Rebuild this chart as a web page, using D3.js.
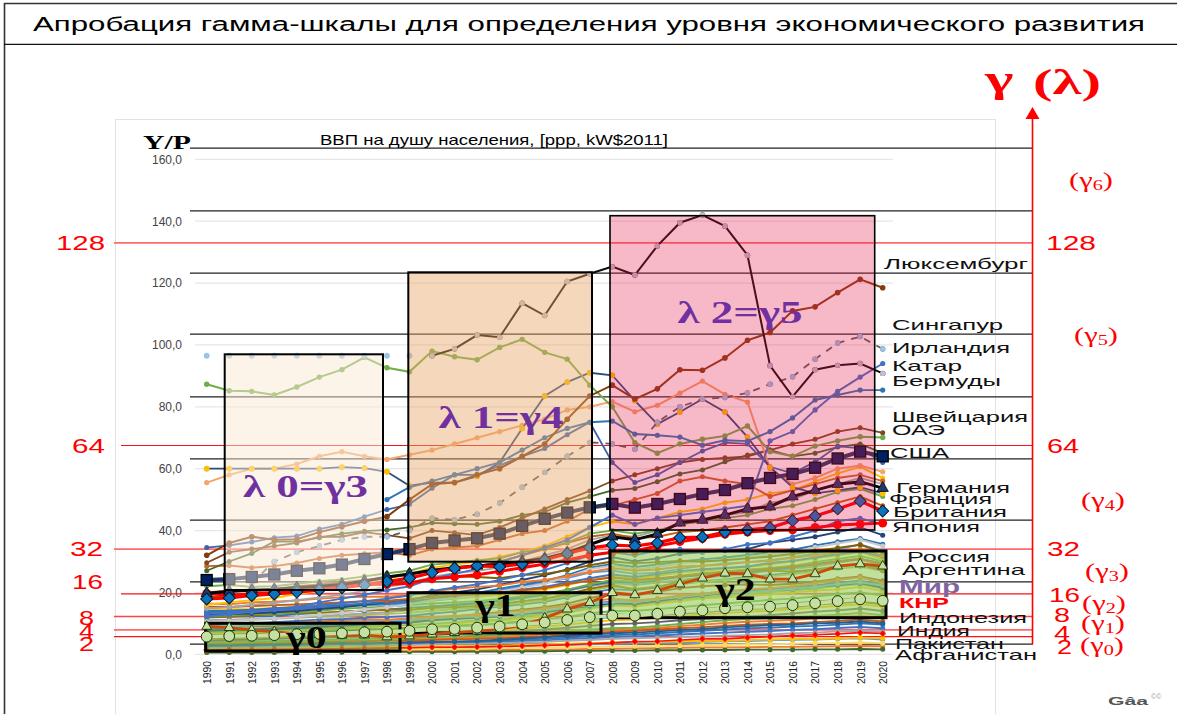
<!DOCTYPE html>
<html><head><meta charset="utf-8">
<script src="https://cdn.jsdelivr.net/npm/d3@7"></script>
<style>html,body{margin:0;padding:0;background:#fff}svg{display:block}</style>
</head><body><svg id="c" width="1177" height="714"></svg>
<script>
const years = d3.range(1990, 2021);
const yTicks = [0,20,40,60,80,100,120,140,160];
const gammaGrid = [163.6,143.3,123.2,103.5,83.2,63.2,43.4,23.4,3.3];
const redLevels = [
 {label:"128",axis:133,c:"#FF6B6B",w:1.6},{label:"64",axis:67.5,c:"#F51515",w:1.1},{label:"32",axis:34,c:"#FF6B6B",w:1.7},{label:"16",axis:19.5,c:"#F51515",w:1.2},
 {label:"8",axis:12.2,c:"#FF4444",w:1.4},{label:"4",axis:7.9,c:"#FF6B6B",w:1.7},{label:"2",axis:5.7,c:"#F51515",w:1.2}];

// Highlighted countries
const luxembourg=[null,null,null,null,null,null,null,null,null,null,96.5,98.7,103.2,102.5,113.5,109.5,120.5,123,125.3,122.6,132,139.5,142,138.4,129,93.3,83.3,92,93.4,94,90.8];
const singapore=[32,36,38,37,37.2,39.5,41.2,43,44.5,50,55,55.5,58,60,64,68,76,83.5,87,82.5,85.8,92,91.8,95.8,101.5,104,111,112.3,116.9,121.2,118.5];
const ireland=[null,null,23,30,33,35,37,38,38,40,44,43.5,45.3,48.9,54,58.8,64,68.5,68,66.3,75,80,82.5,83,84.5,87.3,89.7,95.4,100.6,102.7,98.7];
const brunei=[96.5,96.5,96.5,96.5,96.5,96.5,96.5,96.5,96.5,96.5,96.5];
const qatar=[12.4,12.9,13.7,14.6,15.3,16.8,18,19.2,20.7,22,24.5,26,27.6,29.8,32,34.5,37,41,45,42,44,45,46,47,48,69,72,79,85,89.6,94];
const bermuda=[null,null,null,null,null,null,null,null,50,54,56,58,60,62,66,70,73,75,75.4,71.2,70.8,70.2,67.6,69.2,68.9,72,76.4,82.2,83.8,85.4,85.4];
const kuwait=[60,60,60,60,60,60,60.5,60.2,59,54.5,55.5,55.5,57.5,62,73,83.5,88,91,90.2,82,74.4,78.3,82.5,78.3,70.2,60.5,54,52,53,54,52];
const paleOrange=[55.5,58,60,60,61.5,64,65.5,64,63,64.5,66,68,70,72,74,76,79,80,81.7,78.4,80.5,84.4,88.3,84,81.5,60,55,57,60,61,59];
const paleGreen=[87.3,85.2,85,83.8,86.4,89.6,92,96,92.6,91.3,98,96.2,95.2,99.2,101.8,97.6,95.4,87,80,68.4,65,68,69.5,70.6,73.8,65.5,64,67.3,69,70.3,70.1];
const switzerland=[29.6,33,34,35,36,38,38,39.5,38.5,37.5,40,39.3,38.5,41,44,47,50,52.8,56,58,60,62,63,63.5,64,66,68,69.5,72,73.2,71.6];
const norway=[34.5,35.2,36.3,37.7,38.2,40.5,42,44.5,46.8,48.5,53.7,58,58,61,64,66.5,71,75,62,55.5,58,62,65.7,68.4,68,60.6,58.5,62.2,67.3,66.6,62];
const uae=[27,30,32.6,36.5,36.4,37.7,39,39.8,40.2,41,42.5,42.2,42,43,45,46,49,51,53,53.6,55.8,58.3,59.6,62.2,64.4,66,64,65,67,68,65];
const usa=[24,24.3,25,25.8,27,27.8,29,30.8,32.4,34,36,36.8,37.5,39,41.5,43.8,45.8,47.5,48.6,47.4,48.6,50.2,51.8,53.1,55.3,57,58.3,60.3,63.3,65.5,64];
const germany=[19.7,20.3,20.8,21,21.6,22,22.6,23.6,25,26,27.2,28,28.6,29,30,31,32.8,35.5,38,37,38.9,42.5,43.4,45,47,47.7,51,53,55,55.8,53.7];
const britain=[17.9,18.2,19,19.5,20.1,20.8,21.5,22.4,23.5,24.6,26.4,27.8,28.6,28.3,29.2,30.5,32.6,34.4,35.3,35,36,37.7,37.9,39.5,40.2,40.9,43.2,44.7,47,49.5,46.3];
const japan=[19.7,19,19.6,20,20.8,21.4,22,22.7,22.6,23,24.4,25,25.7,26.8,28,29.2,30.5,32,33,33.4,35,36.4,37.5,38.8,39.5,40,40.2,41,41.8,42.1,42.4];
const russia=[9,8.6,7.8,7.3,6.5,6.3,6.1,6.2,5.6,5.9,6.5,7,7.5,8.2,9.3,11.7,14.6,16.7,19.9,19.2,20.6,22.7,24.6,26.2,26,24.3,24.3,26,28.5,29.2,28.5];
const china=[5.7,5.9,6,6.2,6.5,6.6,6.8,7.1,7.3,7.6,8.1,8.2,8.6,9,9.7,10.3,11.1,12,12.5,12.5,13.1,13.8,14.2,14.9,15.2,15.4,15.9,16.5,17.2,17.8,17.3];
const india=[1.4,1.5,1.5,1.6,1.7,1.7,1.8,1.9,2,2.1,2.3,2.3,2.4,2.5,2.7,2.9,3.1,3.4,3.7,4.1,4.2,4.6,5,5,5.4,5.7,6.1,6.3,6.6,7,6.7];

// Crowd of other countries
const c01=[28.5,28.7,28,28.5,29.5,31,32,32.5,33,32,34,34.5,35,37,39,40,43,47,48,50,52,56,57.4,56,55,51,53,55,57,58,56];
const c02=[16,16.8,17.5,18.2,19.5,20.5,21.5,23,24.5,26,28,29,30,31.5,33,35,38,41,43,42,44,46,47,49,50,52,53,55.8,58.5,60.6,57];
const c03=[14.8,15.2,16,16.6,17.5,18.4,19.2,20.5,21.8,23,25,26.2,27,28,30,32,34,37,38.5,38,40,42,43,45,46,49,50,53,55,57,55];
const c04=[20,20.6,20.5,21,22,22.6,23.2,24,24.8,25.6,27,27.8,28.4,30,32,34,36,38,39,37.5,38,39.5,40,41,42,43,45,47,49,51,48];
const c05=[22,22.4,21.8,22,22.8,23.6,24.2,25.2,26.2,27,29,29.6,30.4,31,33,34,36.2,39,40,39,40,42,43,44,45,47,48,50,52.5,53.5,51];
const c06=[13.2,13.5,14,14.4,15,15.8,16.5,17.2,18,19,20.5,21.6,22.6,24,25.6,27.2,29.5,32,33,32,33.5,34,33,34,35.5,36,38,40,43,44,42];
const c07=[12.8,13,13.2,13.6,14,14.6,15.2,16,16.8,17.6,19,20,21,22.4,24,25.6,27.4,30,31.4,30,31,32.5,33,33.5,34,36,37,38,39.5,41,38.5];
const c08=[10.5,10.8,11.2,11.6,12,12.8,13.4,14.4,15.2,16.2,17.5,18.2,19,20.2,21.6,22.8,25,27.5,28.6,27.4,28.2,29.4,30,30.6,31.2,32.4,33,34.6,35.8,37,35];
const c09=[18.6,18.8,19.2,19.8,20.4,21,21.6,22.4,22.8,23.2,24.6,25.2,25,24.6,25.6,26,27.2,28.8,30,29.4,29.8,30.2,30,30.4,31,31.6,32.4,33.4,34.4,35.4,33];
const c10=[14.2,14.6,14.6,15,15.4,15.6,16,16.2,16.6,17,17.6,18,18.6,19.2,20,21,22.4,24,25,24.4,25.4,26.4,27,27.6,28.2,29,30,31,32,33,30.8];
const c11=[13,13.4,13.6,14,14.4,14.8,15.4,15.8,16,16.4,17.4,18,19.4,20.6,22,23,24.6,26.4,27,26,26.4,27.6,28.6,29.4,29.8,30.4,31.4,32.6,34,35.5,33.4];
const c12=[16.4,16.2,16.8,17,17.4,18,18.4,18.6,18.6,19.2,20.4,21.2,21.8,22.2,23.4,24,25.2,26.6,27.8,27,27.4,28.4,28.6,29,29.8,30.2,31.2,32,33,34,32];
const c13=[11,11.2,11.4,11.6,12,12.4,12.8,13.2,13.6,14.2,15,15.6,16.4,17,18,19,20.4,22,23,22.4,23.2,24,24.8,25.4,26,27,27.6,28.4,29.6,30.6,28.6];
const c14=[9.5,9.8,10,10.4,10.8,11.2,11.4,11.8,12,12.4,13.2,13.8,14.6,15.4,16.2,17,18.4,20,21,20.8,21.6,22.6,23.6,24.2,25,25.6,26.4,27.2,28.4,29.2,27.8];
const c15=[12.2,12.2,12.6,13,13.4,13.4,13.8,14.2,14.4,14.4,15,15.2,15.6,16.2,17.2,18,19.4,21.2,22.4,21,21.8,23.4,25,26.4,27.2,27,26.8,27.4,28.4,29,27];
const c16=[10,10.2,9.8,10.2,10.4,10.6,11,11.2,11.2,11.6,12,12.4,12.8,13.4,14,14.8,15.6,17,18,17.4,18,19,19.6,20.4,21,21.4,22,23,24,24.8,23];
const c17=[8.6,8.8,9,9.2,9.6,10,10.4,10.6,10.8,11.2,11.8,12.2,13,13.6,14.4,15.2,16.4,18.2,19.4,19,20.2,21.4,22,22.4,22.6,22.4,22.8,23.4,24.4,25.2,23.8];
const c18=[7.6,7.8,8,8.2,8.4,8.8,9.2,9.6,10,10.2,11,11.4,11.8,12.2,13,13.6,14.6,15.6,16.6,16.2,17.2,18.2,19,19.8,20.4,20.8,21,21.8,22.4,23,21.6];
const c19=[6.8,7,7.2,7.4,7.8,8.2,8.6,8.8,9,9.4,9.8,10,10.4,10.8,11.6,12.4,13.4,14.8,15.8,15.4,16.4,17.2,18,18.4,18.8,19.4,20,20.6,21,21.8,20.4];
const c20=[6,6.2,6.4,6.4,6.8,7,7.4,7.6,7.6,7.8,8.2,8.6,9,9.4,10,10.6,11.2,12.4,13,12.6,13.2,14,14.6,15.2,15.6,16,16.4,17,17.6,18.2,17];
const c21=[5.2,5.4,5.6,5.8,6,6.2,6.4,6.8,7,7.2,7.4,7.8,8.2,8.6,9.2,9.8,10.6,11.6,12.2,12,12.6,13.2,13.6,14.2,14.6,15,15.2,16,16.6,17,16.2];
const c22=[4.4,4.6,4.8,5,5.2,5.4,5.6,5.8,5.8,6,6.2,6.6,6.8,7,7.4,8,8.6,9.2,9.8,10,10.4,11,11.4,11.8,12.2,12.6,13.2,13.8,14.2,14.8,14];
const c23=[3.8,4,4.2,4.2,4.4,4.6,4.8,5,5.2,5.2,5.6,5.8,6,6.2,6.6,7,7.4,8,8.4,8.6,9.2,9.8,10.4,11,11.4,11.6,12,12.4,12.8,13.4,12.6];
const c24=[3.2,3.2,3.4,3.4,3.6,3.8,4,4.2,4.4,4.4,4.6,4.8,5,5.2,5.4,5.8,6.2,6.8,7.2,7.6,8,8.4,8.8,9.2,9.6,9.8,10,10.4,10.8,11.2,10.6];
const c25=[2.7,2.8,2.8,3,3,3.2,3.4,3.4,3.6,3.8,4,4,4.2,4.4,4.8,5,5.4,5.8,6.2,6.4,6.8,7.2,7.6,8,8.4,8.6,9,9.2,9.6,10,9.6];
const c26=[2.2,2.2,2.4,2.4,2.6,2.6,2.8,2.8,3,3,3.2,3.4,3.4,3.6,3.8,4,4.4,4.6,5,5.2,5.4,5.6,5.8,6,6.2,6.4,6.8,7,7.4,7.6,7.2];
const c27=[1.8,1.8,1.8,2,2,2.2,2.2,2.4,2.4,2.4,2.6,2.6,2.8,2.8,3,3.2,3.4,3.6,3.8,4,4,4.2,4.4,4.4,4.6,4.8,5,5,5.2,5.4,5.2];
const c28=[1.2,1.2,1.2,1.2,1.4,1.4,1.4,1.6,1.6,1.6,1.8,1.8,1.8,2,2,2.2,2.2,2.4,2.6,2.6,2.8,2.8,3,3,3.2,3.2,3.4,3.6,3.6,3.8,3.6];
const c29=[0.9,0.9,0.9,1,1,1,1.1,1.1,1.2,1.2,1.2,1.3,1.3,1.4,1.4,1.5,1.6,1.7,1.8,1.9,2,2.1,2.2,2.2,2.3,2.4,2.4,2.5,2.6,2.7,2.6];
const c30=[0.6,0.6,0.6,0.6,0.7,0.7,0.7,0.7,0.8,0.8,0.8,0.8,0.9,0.9,1,1,1.1,1.1,1.2,1.2,1.3,1.3,1.4,1.4,1.5,1.5,1.5,1.6,1.6,1.7,1.6];
const c31=[3,2.9,3.1,3.2,3.3,3.4,3.6,3.6,3.7,3.8,4,4.1,4.3,4.7,5.1,5.5,6,6.4,6.8,7,7.4,7.8,8.2,8.7,9.1,9.4,9.6,10,10.2,10.6,10];
const c32=[7.2,7.4,7.5,7.9,8,8.3,8.6,9,9.3,9.5,9.9,10.4,11,11.2,12.2,13,13.8,15,16,16.2,16.9,17.8,18.4,19,19.6,20.1,20.7,21.2,22.1,22.6,21.2];
const c33=[5.6,5.5,5.8,6.1,6.3,6.7,7,7.3,7.4,7.6,8,8.2,8.5,9.1,9.5,10.1,10.9,11.4,12,12.3,12.9,13.3,13.9,14.4,15,15.4,16.1,16.5,17,17.5,16.7];
const c34=[11.9,12.1,12.3,12.4,13,13.3,13.7,14.1,14.5,15,15.5,16,16.6,17.3,18.4,19.4,20.7,22.3,23.5,23,24,25,25.6,26,26.4,27.3,28,29,30,30.8,29.4];
const c35=[9.2,9,9.3,9.7,9.9,10.1,10.3,10.7,11,11.1,11.6,12,12.2,12.6,13.3,14.1,15,16,16.9,17,17.8,18.5,19.3,20,20.2,20.6,21.2,21.8,22.7,23.3,22.2];
const c36=[1.6,1.5,1.6,1.7,1.8,1.9,1.9,2,2.1,2.2,2.2,2.3,2.4,2.6,2.7,2.9,3,3.2,3.4,3.5,3.7,3.9,4,4.2,4.3,4.5,4.7,4.8,5,5.2,4.8];
const c37=[13.6,13.9,14.2,14.3,14.8,15.1,15.6,16.1,16.4,16.7,17.6,18.4,19.1,20.3,21,21.8,23.2,24.6,25.8,25,25.9,26.9,27.5,27.9,28.4,29.5,30.2,31.3,32.4,33.2,31.6];
const c38=[14,14.1,14.4,14.9,15.2,15.7,15.9,16.4,16.9,17.2,17.9,18.8,19.8,21.2,22.4,23.7,25.6,28,29.2,28.2,29,30,30.7,31.3,32.1,33,33.8,35.2,36.4,37.4,35.6];
const c39=[12.5,12.6,13,13.2,13.6,14.1,14.7,15.1,15.4,15.9,16.4,16.8,17.2,17.9,18.8,19.6,20.9,22.6,24,23.4,24.2,25.4,26.2,26.8,27.4,27.9,28.6,29.8,30.8,31.8,30];
const c40=[15.4,15.3,15.6,15.9,16.1,16.4,16.8,17.2,17.3,17.9,18.5,19,19.4,19.9,20.6,21.4,22.7,23.8,24.9,24,24.6,25.2,25.9,26.5,27,27.6,28.3,29.2,30.1,30.9,29.2];
const c41=[10.9,11,11.1,11.5,11.8,12.1,12.3,12.7,13,13.4,14.1,14.6,15.1,15.9,16.6,17.4,18.9,20.6,21.8,21.2,21.9,22.9,23.4,24,24.6,25.2,25.9,26.7,27.7,28.3,27];
const c42=[8.1,8.3,8.2,8.5,8.9,9.4,9.7,10.1,10.5,10.6,11.2,11.6,11.9,12.5,13.1,13.9,14.9,16.1,17.2,17,17.9,18.7,19.4,20.1,20.6,21,21.6,22.3,23.1,23.8,22.4];
const c43=[4.9,5,5.2,5.3,5.6,5.9,6,6.3,6.5,6.6,7,7.2,7.5,7.9,8.4,8.9,9.6,10.4,11,11.2,11.8,12.3,12.9,13.3,13.8,14.1,14.6,15.1,15.7,16.2,15.4];
const c44=[6.4,6.6,6.7,7,7.1,7.5,7.9,8.2,8.3,8.6,8.9,9.3,9.6,10,10.7,11.3,12.1,13.2,14,14,14.6,15.2,15.9,16.4,17,17.6,18,18.7,19.4,20,19];
const c45=[3.5,3.6,3.7,3.8,3.9,4.1,4.3,4.5,4.6,4.8,5,5.2,5.5,5.7,6,6.4,6.9,7.3,7.8,8.1,8.6,9.1,9.6,10.1,10.5,10.8,11.1,11.6,12,12.4,11.8];
const c46=[2.4,2.5,2.6,2.6,2.8,2.9,3,3.1,3.3,3.4,3.6,3.7,3.8,4,4.3,4.5,4.9,5.2,5.6,5.8,6.1,6.4,6.7,7,7.3,7.5,7.9,8.1,8.5,8.8,8.4];

const crowd=[
 [c46,"#4472C4"],[c45,"#ED7D31"],[c29,"#ED7D31"],[c30,"#43682B"],[c36,"#5B9BD5"],[c27,"#FFC000"],[c28,"#FFD966"],[c26,"#A5A5A5"],[c25,"#2E75B6"],[c24,"#C55A11"],
 [c31,"#255E91"],[c23,"#70AD47"],[c43,"#FFC000"],[c22,"#636363"],[c21,"#997300"],[c33,"#5B9BD5"],[c44,"#70AD47"],[c20,"#43682B"],[c19,"#FFC000"],[c32,"#8CC168"],
 [c42,"#2E75B6"],[c18,"#264478"],[c17,"#9E480E"],[c35,"#7CAFDD"],[c16,"#ED7D31"],[c14,"#4472C4"],[c41,"#A5C45A"],[c13,"#A5A5A5"],[c34,"#2E75B6"],[c15,"#997300"],
 [c39,"#70AD47"],[c10,"#FFC000"],[c11,"#5B9BD5"],[c37,"#4472C4"],[c07,"#264478"],[c38,"#2E75B6"],[c08,"#C9C9C9"],[c12,"#ED7D31"],[c40,"#C55A11"],[c09,"#7F6000"],[c06,"#4472C4"],[c03,"#A5A5A5"],
 [c02,"#FFC000"],[c04,"#C55A11"],[c05,"#70AD47"],[c01,"#C8642A"]];

const axisFont='"Liberation Sans",Arial,sans-serif', serif='"Liberation Serif","DejaVu Serif",serif';
const svg=d3.select("#c");
const x=d3.scaleLinear().domain([1990,2020]).range([206.7,882.7]);
const y=d3.scaleLinear().domain([0,160]).range([654.3,159.3]);
const line=d3.line().defined(d=>d.v!=null).x(d=>x(d.yr)).y(d=>y(d.v));
const pts=a=>a.map((v,i)=>({yr:years[i],v})).filter(d=>d.v!=null);

// frame
svg.append("rect").attr("x",115.5).attr("y",119.5).attr("width",880).attr("height",700).attr("fill","#fff").attr("stroke","#e2e2e2");
svg.append("path").attr("d","M4.5 720V3.5H1177").attr("fill","none").attr("stroke","#333").attr("stroke-width",1.6);
svg.append("line").attr("x1",4).attr("x2",1177).attr("y1",44.3).attr("y2",44.3).attr("stroke","#111").attr("stroke-width",1.2);
svg.append("text").text("Апробация гамма-шкалы для определения уровня экономического развития")
 .attr("x",33).attr("y",31).attr("font-family",axisFont).attr("font-size",20).attr("textLength",1112).attr("lengthAdjust","spacingAndGlyphs").attr("fill","#000");

// grid and axes
const g=svg.append("g");
g.selectAll("line.grid").data(yTicks).join("line").attr("class","grid").attr("x1",195).attr("x2",893).attr("y1",d=>y(d)).attr("y2",d=>y(d)).attr("stroke","#e6e6e6").attr("stroke-width",1.2);
const ay=d3.axisLeft(y).tickValues(yTicks).tickSize(0).tickFormat(d=>d3.format(".1f")(d).replace(".",","));
const ayG=svg.append("g").attr("transform","translate(185,0)").call(ay);
ayG.select(".domain").remove();
ayG.selectAll("text").attr("font-family",axisFont).attr("font-size",12).attr("fill","#444");
const ax=d3.axisBottom(x).tickValues(years).tickSize(0).tickFormat(d3.format("d"));
const axG=svg.append("g").attr("transform","translate(0,655)").call(ax);
axG.select(".domain").remove();
axG.selectAll("text").attr("font-family",axisFont).attr("font-size",11).attr("fill","#222")
 .attr("text-anchor","end").attr("transform","translate(0,6) rotate(-90)").attr("dx",0).attr("dy","0.35em").attr("y",0).attr("x",0)
 .attr("textLength",23).attr("lengthAdjust","spacingAndGlyphs");

// gamma grid (black) and red levels
svg.selectAll("line.gg").data(gammaGrid).join("line").attr("class","gg").attr("x1",190).attr("x2",1033).attr("y1",d=>y(d)).attr("y2",d=>y(d)).attr("stroke","#222").attr("stroke-width",1.3);
svg.selectAll("line.rl").data(redLevels).join("line").attr("class","rl").attr("x1",d=>(d.label==="64"||d.label==="16")?121:114).attr("x2",1033).attr("y1",d=>y(d.axis)).attr("y2",d=>y(d.axis)).attr("stroke",d=>d.c).attr("stroke-width",d=>d.w);

// ordinary series
function drawSeries(a,color,w,r,dash){
 const p=pts(a);
 svg.append("path").attr("d",line(p)).attr("fill","none").attr("stroke",color).attr("stroke-width",w).attr("stroke-dasharray",dash||null);
 if(r) svg.append("g").selectAll("circle").data(p).join("circle").attr("cx",d=>x(d.yr)).attr("cy",d=>y(d.v)).attr("r",r).attr("fill",color);
}
crowd.forEach(([a,c])=>drawSeries(a,c,1.9,2.5));
drawSeries(uae,"#43682B",1.8,2.5);
drawSeries(switzerland,"#7B4A1E",1.8,2.5);
drawSeries(norway,"#3B64AD",1.8,2.5);
drawSeries(paleOrange,"#F4A46A",2,2.6);
drawSeries(kuwait,"#2F4B7C",1.8,2.5);
drawSeries(kuwait,"#FFC000",0,2.9);
drawSeries(paleGreen,"#70AD47",2,2.7);
drawSeries(bermuda,"#2E75B6",1.9,2.6);
drawSeries(qatar,"#4472C4",1.9,2.6);
drawSeries(ireland,"#5F5F5F",1.8,2.7,"7 7");
drawSeries(ireland,"#9DC3E6",0,2.7);
drawSeries(brunei,"#9DC3E6",0,2.9);
drawSeries(singapore,"#843C0C",2,2.8);
drawSeries(luxembourg,"#0b0b0b",2,2.7);
drawSeries(luxembourg,"#BFBFCF",0,2.7);

// highlighted series under the boxes
drawSeries(india,"#FF1010",1.6,0);
svg.append("g").selectAll("path").data(pts(india)).join("path").attr("d",d3.symbol(d3.symbolSquare,22)).attr("transform",d=>`translate(${x(d.yr)},${y(d.v)}) rotate(45)`).attr("fill","#FF0000").attr("stroke","#ED7D31").attr("stroke-width",.6);
drawSeries(japan,"#FF0000",3,0);
svg.append("g").selectAll("circle").data(pts(japan)).join("circle").attr("cx",d=>x(d.yr)).attr("cy",d=>y(d.v)).attr("r",4.4).attr("fill","#FF0000");
drawSeries(germany,"#050505",3,0);
svg.append("g").selectAll("path").data(pts(germany)).join("path").attr("d",d3.symbol(d3.symbolTriangle,55)).attr("transform",d=>`translate(${x(d.yr)},${y(d.v)})`).attr("fill","#1c3a70").attr("stroke","#000").attr("stroke-width",.8);
drawSeries(britain,"#FF0000",3.2,0);
svg.append("g").selectAll("path").data(pts(britain)).join("path").attr("d",d3.symbol(d3.symbolSquare,72)).attr("transform",d=>`translate(${x(d.yr)},${y(d.v)}) rotate(45)`).attr("fill","#0B72BE").attr("stroke","#071528").attr("stroke-width",1);
drawSeries(usa,"#1F3864",4,0);
svg.append("g").selectAll("rect").data(pts(usa)).join("rect").attr("x",d=>x(d.yr)-5.5).attr("y",d=>y(d.v)-5.5).attr("width",11).attr("height",11).attr("fill","#002060").attr("stroke","#000").attr("stroke-width",1.3);

// overlay boxes
const boxes=[
 {x0:224.7,x1:383,y0:354.3,y1:590,fill:"#F9E7D3",a:.5,sw:2},
 {x0:408.3,x1:592,y0:272.3,y1:561.7,fill:"#E9A76B",a:.45,sw:2},
 {x0:610,x1:874.7,y0:215.7,y1:530,fill:"#E41648",a:.3,sw:1.6},
 {x0:205.7,x1:400,y0:623.3,y1:651,fill:"#8CC25A",a:.5,sw:3},
 {x0:408,x1:601,y0:592.7,y1:633,fill:"#9BCD62",a:.6,sw:3},
 {x0:610,x1:886,y0:551,y1:617.7,fill:"#9BCD62",a:.62,sw:3}];
svg.selectAll("rect.box").data(boxes).join("rect").attr("class","box").attr("x",d=>d.x0).attr("y",d=>d.y0).attr("width",d=>d.x1-d.x0).attr("height",d=>d.y1-d.y0)
 .attr("fill",d=>d.fill).attr("fill-opacity",d=>d.a).attr("stroke","#000").attr("stroke-width",d=>d.sw);

// Russia and China stay crisp above the green boxes
drawSeries(russia,"#CC4A0C",2.8,0);
svg.append("g").selectAll("path").data(pts(russia)).join("path").attr("d",d3.symbol(d3.symbolTriangle,42)).attr("transform",d=>`translate(${x(d.yr)},${y(d.v)})`).attr("fill","#C6E0A4").attr("stroke","#1b3505").attr("stroke-width",.9);
drawSeries(china,"#C6E0A4",3.5,0);
svg.append("g").selectAll("circle").data(pts(china)).join("circle").attr("cx",d=>x(d.yr)).attr("cy",d=>y(d.v)).attr("r",5.4).attr("fill","#C6E0A4").attr("stroke","#1b3505").attr("stroke-width",1);

// box titles, stretched horizontally as in the picture
const boxTitles=[
 {t:"λ 0=γ3",x:305.5,y:497,c:"#7030A0",sx:1.45},{t:"λ 1=γ4",x:501,y:428,c:"#7030A0",sx:1.45},{t:"λ 2=γ5",x:740,y:323,c:"#7030A0",sx:1.45},
 {t:"γ0",x:306.5,y:648,c:"#000",sx:1.35},{t:"γ1",x:495.5,y:616,c:"#000",sx:1.35},{t:"γ2",x:735.5,y:600,c:"#000",sx:1.35}];
svg.selectAll("text.bt").data(boxTitles).join("text").attr("class","bt").text(d=>d.t).attr("text-anchor","middle")
 .attr("transform",d=>`translate(${d.x},${d.y}) scale(${d.sx},1)`)
 .attr("font-family",serif).attr("font-weight",700).attr("font-size",31).attr("fill",d=>d.c);

// headers
svg.append("text").text("Y/P").attr("x",143).attr("y",149).attr("font-family",serif).attr("font-weight",700).attr("font-size",19).attr("textLength",48).attr("lengthAdjust","spacingAndGlyphs");
svg.append("text").text("ВВП на душу населения, [ppp, kW$2011]").attr("x",320).attr("y",145).attr("font-family",axisFont).attr("font-size",14.5).attr("textLength",348).attr("lengthAdjust","spacingAndGlyphs");

// country labels
const countryLabels=[
 ["Люксембург",884,269,144],["Сингапур",892,330,111],["Ирландия",892,353,118],["Катар",892,371,70],["Бермуды",892,386,109],
 ["Швейцария",892,422,136],["ОАЭ",892,435,53],["США",890,458,59],["Германия",896,493,114],["Франция",889,504,103],
 ["Британия",893,517,114],["Япония",892,532,88],["Россия",907,562,83],["Аргентина",902,575,123],["Индонезия",899,623,128],
 ["Индия",897,636,73],["Пакистан",895,649,109],["Афганистан",895,660,142]];
svg.selectAll("text.cl").data(countryLabels).join("text").attr("class","cl").text(d=>d[0]).attr("x",d=>d[1]).attr("y",d=>d[2]).attr("textLength",d=>d[3]).attr("lengthAdjust","spacingAndGlyphs")
 .attr("font-family",axisFont).attr("font-size",15).attr("fill","#111");
svg.append("text").text("Мир").attr("x",899).attr("y",593).attr("textLength",61).attr("lengthAdjust","spacingAndGlyphs").attr("font-family",axisFont).attr("font-weight",700).attr("font-size",19).attr("fill","#8064A2");
svg.append("text").text("КНР").attr("x",899).attr("y",608).attr("textLength",50).attr("lengthAdjust","spacingAndGlyphs").attr("font-family",axisFont).attr("font-weight",700).attr("font-size",15).attr("fill","#FF0000");

// red axis
svg.append("line").attr("x1",1032.5).attr("x2",1032.5).attr("y1",116).attr("y2",y(gammaGrid[8])).attr("stroke","#FF0000").attr("stroke-width",1.6);
svg.append("path").attr("d","M1032.5 107L1039.5 119H1025.5Z").attr("fill","#FF0000");
svg.append("text").text("γ").attr("transform","translate(985,92) scale(1.6,1)").attr("font-family",serif).attr("font-weight",700).attr("font-size",38).attr("fill","#FF0000");
svg.append("text").text("(λ)").attr("x",1033).attr("y",94).attr("font-family",serif).attr("font-weight",700).attr("font-size",36).attr("textLength",68).attr("lengthAdjust","spacingAndGlyphs").attr("fill","#FF0000");

// red numbers
const leftNums=[["128",56,243,49],["64",72,446,33],["32",70,549,33],["16",72,582,31],["8",79,618,15],["4",79,631,15],["2",79,644,15]];
const rightNums=[["128",1046,243,50],["64",1047,446,32],["32",1047,549,33],["16",1049,595,31],["8",1054,615,16],["4",1054,633,16],["2",1057,647,15]];
svg.selectAll("text.ln").data(leftNums.concat(rightNums)).join("text").attr("class","ln").text(d=>d[0]).attr("x",d=>d[1]).attr("y",d=>d[2]+7).attr("textLength",d=>d[3]).attr("lengthAdjust","spacingAndGlyphs")
 .attr("font-family",axisFont).attr("font-size",20).attr("fill","#FF0000");

// gamma classes
const gammaLabels=[["6",1091,181],["5",1096,336],["4",1103,501],["3",1107,572],["2",1104,604],["1",1103,624],["0",1102,646]];
const gl=svg.selectAll("text.gl").data(gammaLabels).join("text").attr("class","gl").attr("text-anchor","middle")
 .attr("transform",d=>`translate(${d[1]},${d[2]+6}) scale(1.45,1)`)
 .attr("font-family",serif).attr("font-size",21).attr("fill","#FF0000");
gl.append("tspan").text("(γ");
gl.append("tspan").text(d=>d[0]).attr("font-size",14).attr("dy",3);
gl.append("tspan").text(")").attr("dy",-3);

// mark
svg.append("text").text("Gâa").attr("x",1108).attr("y",705).attr("textLength",40).attr("lengthAdjust","spacingAndGlyphs").attr("font-family",axisFont).attr("font-weight",700).attr("font-size",10).attr("fill","#555");
svg.append("text").text("©©").attr("x",1151).attr("y",699).attr("font-family",axisFont).attr("font-size",7).attr("fill","#999");
</script></body></html>
